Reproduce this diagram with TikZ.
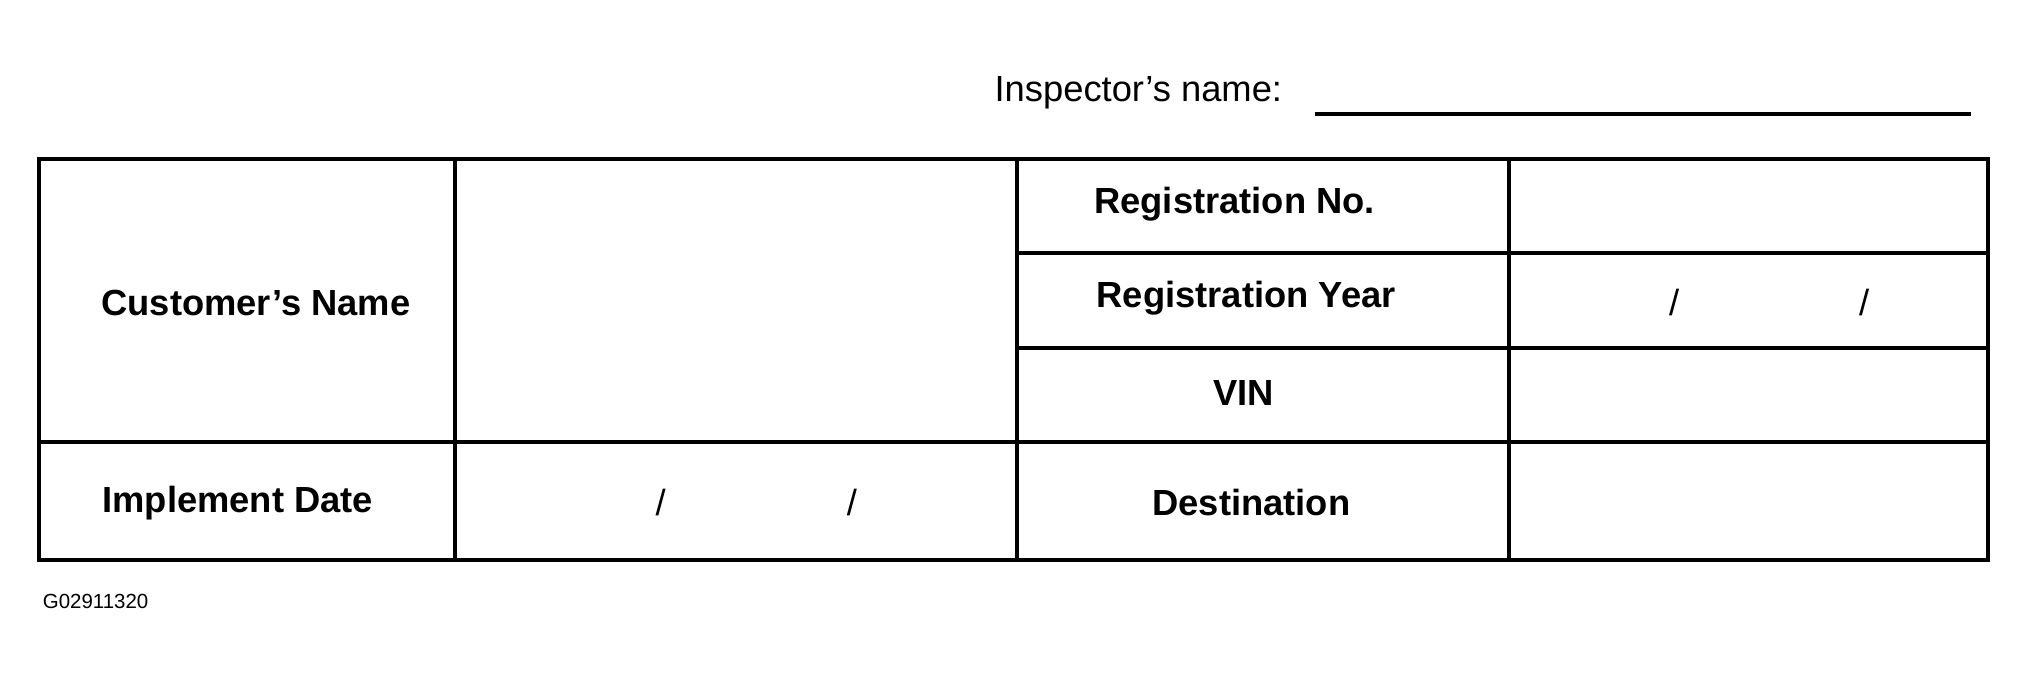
\documentclass[tikz,border=0pt]{standalone}
\usepackage{fontspec}
\setmainfont{Liberation Sans}
\begin{document}
\begin{tikzpicture}[x=0.02cm,y=-0.02cm,
  lbl/.style={font=\fontsize{16}{19}\selectfont\bfseries},
  sl/.style={font=\fontsize{16}{19}\selectfont},
  ln/.style={line width=1.7pt}]
\useasboundingbox (0,0) rectangle (1568,528);
\draw[ln] (30,123) rectangle (1538,433);
\draw[ln] (352,123) -- (352,433);
\draw[ln] (787,123) -- (787,433);
\draw[ln] (1167,123) -- (1167,433);
\draw[ln] (30,342) -- (1538,342);
\draw[ln] (787,196) -- (1538,196);
\draw[ln] (787,269) -- (1538,269);
\node[sl,anchor=east] (insp) at (998,72) {Inspector’s name:};
\coordinate (u1) at (1017,88); \coordinate (u2) at (1525,88);
\draw[ln] (u1) -- (u2);
\node[lbl] (cn) at (198,234) {Customer’s Name};
\node[lbl] (id) at (184,389) {Implement Date};
\node[sl] (s1) at (511,389) {/};
\node[sl] (s2) at (659,389) {/};
\node[lbl] (rn) at (955,158) {Registration No.};
\node[lbl] (ry) at (964,231) {Registration Year};
\node[lbl] (vin) at (962,304) {VIN};
\node[lbl] (dst) at (968,389) {Destination};
\node[sl] (s3) at (1295,234) {/};
\node[sl] (s4) at (1442,234) {/};
\node[anchor=west,font=\fontsize{9}{11}\selectfont] (g) at (27,465) {G02911320};
\end{tikzpicture}
\end{document}
